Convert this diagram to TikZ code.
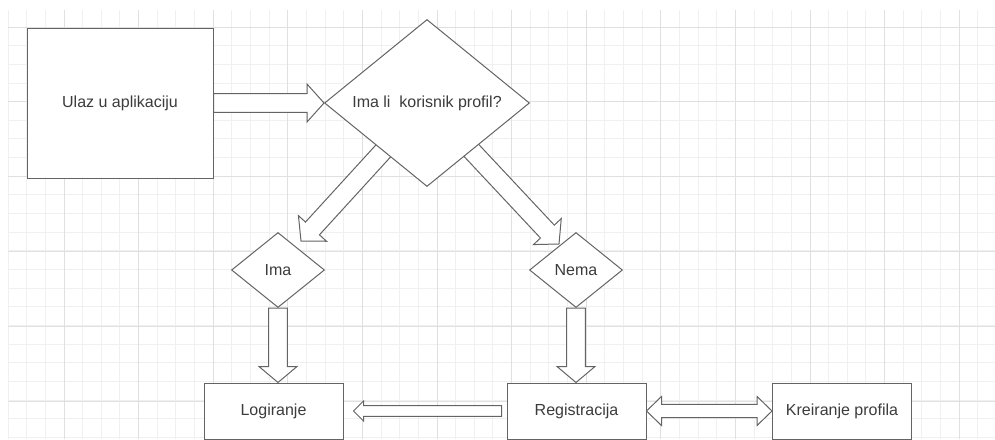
\documentclass[tikz,border=0pt]{standalone}
\usepackage{fontspec}
\setmainfont{Liberation Sans}
\usetikzlibrary{positioning,calc,shapes.geometric,backgrounds}

\definecolor{edgegray}{RGB}{100,100,100}
\definecolor{textgray}{RGB}{60,60,60}
\definecolor{gridminor}{RGB}{240,240,240}
\definecolor{gridmajor}{RGB}{224,224,224}

\tikzset{
  box/.style={draw=edgegray, fill=white, line width=0.75pt, text=textgray,
    font=\fontsize{12}{14}\selectfont},
  choice/.style={box, diamond, inner sep=0pt},
  fatarrow/.style={draw=edgegray, fill=white, line width=0.75pt, line join=miter},
}

% block arrow: start, tip, half shaft, half head, head length
\newcommand{\blockarrow}[5]{%
  \coordinate (hb) at ($(#2)!#5!(#1)$);
  \draw[fatarrow] ($(#1)!#3!90:(#2)$) -- ($(hb)!#3!90:(#2)$) -- ($(hb)!#4!90:(#2)$) -- (#2)
    -- ($(hb)!#4!-90:(#2)$) -- ($(hb)!#3!-90:(#2)$) -- ($(#1)!#3!-90:(#2)$) -- cycle;}

% block arrow with two heads
\newcommand{\dblockarrow}[5]{%
  \coordinate (ha) at ($(#1)!#5!(#2)$);
  \coordinate (hb) at ($(#2)!#5!(#1)$);
  \draw[fatarrow] (#1) -- ($(ha)!#4!90:(#2)$) -- ($(ha)!#3!90:(#2)$) -- ($(hb)!#3!90:(#2)$)
    -- ($(hb)!#4!90:(#2)$) -- (#2) -- ($(hb)!#4!-90:(#2)$) -- ($(hb)!#3!-90:(#2)$)
    -- ($(ha)!#3!-90:(#2)$) -- ($(ha)!#4!-90:(#2)$) -- cycle;}

\begin{document}
\begin{tikzpicture}[x=0.75pt, y=-0.75pt]
  \useasboundingbox (0,0) rectangle (995,439);

  \node[box, minimum width=139.5pt, minimum height=112.5pt] (entry) at (120,103) {Ulaz u aplikaciju};
  \node[choice, minimum width=153.75pt, minimum height=125.25pt] (hasprofile) at (427,103) {Ima li\ \ korisnik profil?};
  \node[choice, minimum width=69.75pt, minimum height=56.25pt] (yes) at (278,270) {Ima};
  \node[choice, minimum width=69.75pt, minimum height=56.25pt] (no) at (576,270) {Nema};
  \node[box, minimum width=104.25pt, minimum height=42pt] (login) at (273.5,411) {Logiranje};
  \node[box, minimum width=104.25pt, minimum height=42pt] (register) at (576.5,411) {Registracija};
  \node[box, minimum width=104.25pt, minimum height=42pt] (create) at (842,411) {Kreiranje profila};

  \coordinate (yestip) at (301,241);
  \coordinate (notip) at (559,244);
  \coordinate[left=3.75pt of register.west] (regout);
  \coordinate[right=7.5pt of login.east] (logtip);

  \begin{scope}[on background layer]
    % grid
    \begin{scope}
      \clip (7.5,10) rectangle (995,439);
      \foreach \i in {0,...,52}
        \draw[gridminor, line width=0.75pt] ({8.05+18.65*\i},10) -- ({8.05+18.65*\i},439);
      \foreach \i in {0,...,23}
        \draw[gridminor, line width=0.75pt] (7.5,{8.4+18.65*\i}) -- (995,{8.4+18.65*\i});
      \foreach \i in {0,...,12}
        \draw[gridmajor, line width=0.75pt] ({64+74.6*\i},10) -- ({64+74.6*\i},439);
      \foreach \i in {0,...,5}
        \draw[gridmajor, line width=0.75pt] (7.5,{27+74.8*\i}) -- (995,{27+74.8*\i});
    \end{scope}

    \blockarrow{entry.east}{hasprofile.west}{7.1pt}{14.25pt}{12.75pt}
    \blockarrow{hasprofile.center}{yestip}{7.1pt}{14.25pt}{12.75pt}
    \blockarrow{hasprofile.center}{notip}{7.1pt}{14.25pt}{12.75pt}
    \blockarrow{yes.south}{yes.south |- login.north}{7.1pt}{14.25pt}{12pt}
    \blockarrow{no.south}{no.south |- register.north}{7.1pt}{14.25pt}{12pt}
    \blockarrow{regout}{logtip}{4.1pt}{7.5pt}{7.5pt}
    \dblockarrow{register.east}{create.west}{4.9pt}{10.9pt}{11.25pt}
  \end{scope}
\end{tikzpicture}
\end{document}
